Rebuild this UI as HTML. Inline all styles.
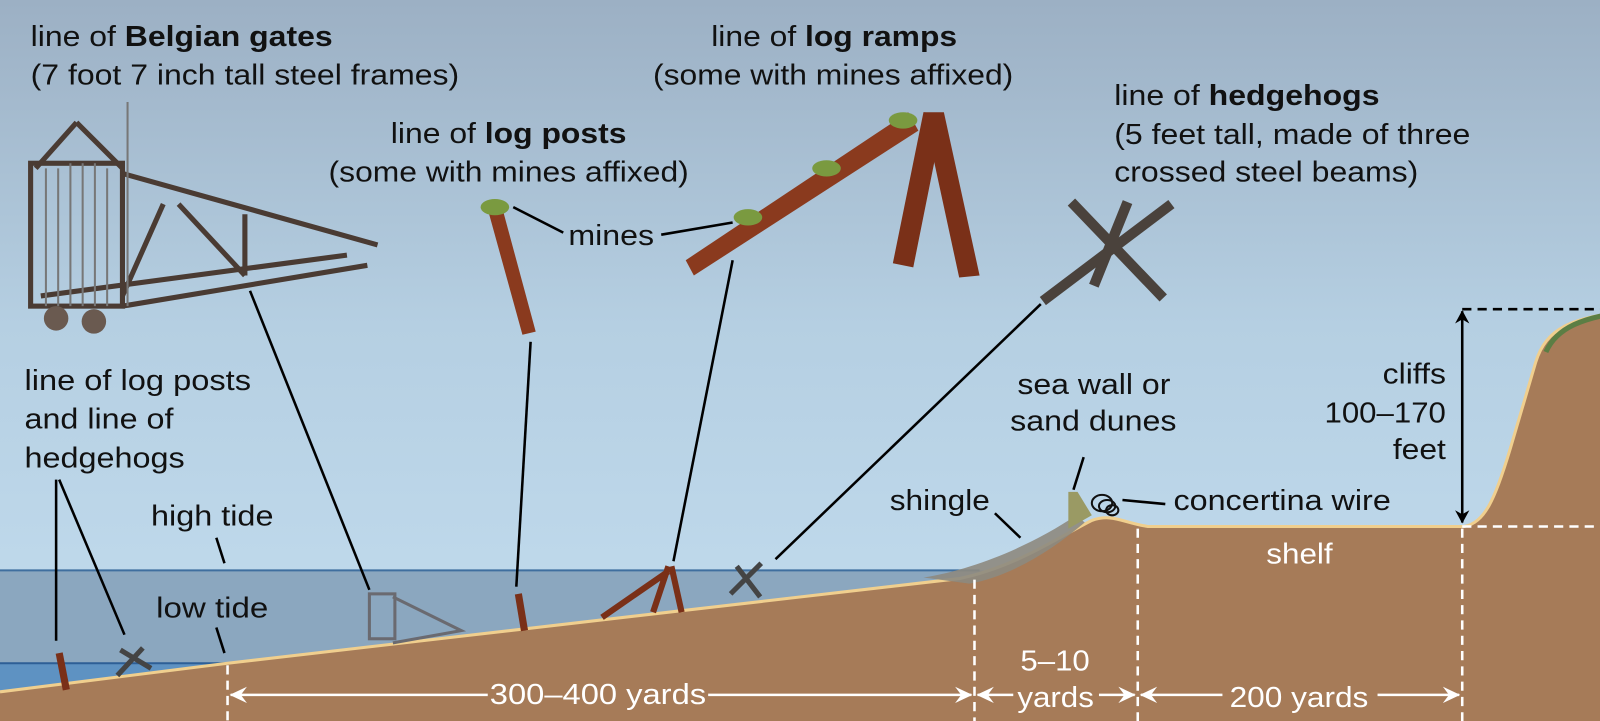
<!DOCTYPE html>
<html><head><meta charset="utf-8"><style>html,body{margin:0;padding:0;overflow:hidden}svg{display:block}</style></head>
<body>
<svg width="1600" height="721" viewBox="0 0 1600 721" xmlns="http://www.w3.org/2000/svg" font-family="Liberation Sans, sans-serif" font-size="28">
<defs>
<linearGradient id="sky" x1="0" y1="0" x2="0" y2="1"><stop offset="0" stop-color="#9cb0c4"/><stop offset="0.45" stop-color="#b5cfe2"/><stop offset="1" stop-color="#c4def0"/></linearGradient>
<marker id="ah" markerWidth="18" markerHeight="16" refX="16" refY="8" orient="auto-start-reverse" markerUnits="userSpaceOnUse"><path d="M0,0 L17,8 L0,16 L6,8 Z" fill="#fff"/></marker>
<marker id="bh" markerWidth="14" markerHeight="14" refX="12" refY="7" orient="auto-start-reverse" markerUnits="userSpaceOnUse"><path d="M0,0 L13,7 L0,14 L4,7 Z" fill="#000"/></marker>
</defs>
<rect width="1600" height="721" fill="url(#sky)"/>
<g transform="scale(1.0204)">
<!-- water -->
<rect x="0" y="559" width="980" height="162" fill="#8ba7bf"/>
<line x1="0" y1="559" x2="960" y2="559" stroke="#3f6f9f" stroke-width="2"/>
<rect x="0" y="650" width="240" height="70" fill="#5e92c2"/>
<line x1="0" y1="650" x2="225" y2="650" stroke="#2d5f96" stroke-width="2"/>
<!-- ground -->
<path d="M0,678 L223,650 L940,567 C995,556 1040,525 1070,510 C1090,503 1100,512 1125,516 L1435,516 C1455,512 1465,490 1480,440 L1505,355 C1515,322 1540,310 1600,305 L1600,721 L0,721 Z" fill="#a67b58"/>
<path d="M0,678 L223,650 L940,567 C995,556 1040,525 1070,510 C1090,503 1100,512 1125,516 L1435,516 C1455,512 1465,490 1480,440 L1505,355 C1515,322 1540,310 1600,305" fill="none" stroke="#f0cf8e" stroke-width="3"/>
<path d="M1515,345 C1525,322 1550,310 1600,305" fill="none" stroke="#5b7e44" stroke-width="5"/>
<!-- shingle -->
<path d="M905,566 C955,558 1010,535 1055,505 L1063,512 C1030,540 990,565 950,572 Z" fill="#8d8a80" opacity="0.9"/>
<!-- sea wall -->
<path d="M1047,482 L1056,482 L1070,505 L1047,518 Z" fill="#9a9a64"/>
<!-- concertina -->
<g fill="none" stroke="#111" stroke-width="2"><ellipse cx="1080" cy="493" rx="10" ry="8"/><ellipse cx="1085" cy="496" rx="8" ry="6"/><ellipse cx="1090" cy="500" rx="6" ry="5"/></g>
<!-- dashed lines -->
<g stroke="#fff" stroke-width="2.5" stroke-dasharray="9,6"><line x1="223" y1="652" x2="223" y2="721"/><line x1="955" y1="568" x2="955" y2="721"/><line x1="1115" y1="518" x2="1115" y2="721"/><line x1="1433" y1="518" x2="1433" y2="721"/><line x1="1433" y1="516" x2="1600" y2="516"/></g>
<line x1="1433" y1="303" x2="1600" y2="303" stroke="#000" stroke-width="2.5" stroke-dasharray="9,6"/>
<line x1="1433" y1="305" x2="1433" y2="512" stroke="#000" stroke-width="2.5" marker-start="url(#bh)" marker-end="url(#bh)"/>
<!-- bottom arrows -->
<g stroke="#fff" stroke-width="2.5" fill="none"><line x1="226" y1="681" x2="478" y2="681" marker-start="url(#ah)"/><line x1="694" y1="681" x2="952" y2="681" marker-end="url(#ah)"/><line x1="958" y1="681" x2="993" y2="681" marker-start="url(#ah)"/><line x1="1077" y1="681" x2="1112" y2="681" marker-end="url(#ah)"/><line x1="1118" y1="681" x2="1198" y2="681" marker-start="url(#ah)"/><line x1="1350" y1="681" x2="1430" y2="681" marker-end="url(#ah)"/></g>
<!-- leader lines -->
<g stroke="#000" stroke-width="2.5"><line x1="245" y1="285" x2="362" y2="578"/><line x1="520" y1="335" x2="506" y2="575"/><line x1="718" y1="255" x2="660" y2="550"/><line x1="1020" y1="298" x2="760" y2="548"/><line x1="55" y1="470" x2="55" y2="628"/><line x1="58" y1="470" x2="122" y2="622"/><line x1="212" y1="527" x2="220" y2="552"/><line x1="212" y1="615" x2="220" y2="640"/><line x1="503" y1="203" x2="552" y2="228"/><line x1="648" y1="230" x2="718" y2="218"/><line x1="975" y1="503" x2="1000" y2="527"/><line x1="1062" y1="448" x2="1052" y2="480"/><line x1="1100" y1="490" x2="1142" y2="494"/></g>
<!-- Belgian gate big -->
<g stroke="#4a3b33" stroke-width="5" fill="none">
<rect x="30" y="160" width="90" height="140"/>
<line x1="120" y1="170" x2="370" y2="240"/><line x1="120" y1="300" x2="360" y2="260"/><line x1="40" y1="290" x2="340" y2="250"/>
<line x1="160" y1="200" x2="120" y2="290"/><line x1="240" y1="210" x2="240" y2="270"/><line x1="175" y1="200" x2="240" y2="270"/><line x1="75" y1="120" x2="35" y2="165"/><line x1="75" y1="120" x2="120" y2="165"/>
</g>
<g stroke="#777" stroke-width="2"><line x1="45" y1="165" x2="45" y2="300"/><line x1="57" y1="165" x2="57" y2="300"/><line x1="69" y1="160" x2="69" y2="300"/><line x1="81" y1="160" x2="81" y2="300"/><line x1="93" y1="160" x2="93" y2="300"/><line x1="105" y1="165" x2="105" y2="300"/><line x1="125" y1="100" x2="125" y2="300"/></g>
<circle cx="55" cy="312" r="12" fill="#6a5a50"/><circle cx="92" cy="315" r="12" fill="#6a5a50"/>
<!-- log post -->
<path d="M478,205 L492,203 L525,325 L512,328 Z" fill="#8a3a1e"/>
<ellipse cx="485" cy="203" rx="14" ry="8" fill="#7a9a40"/>
<!-- log ramp -->
<path d="M672,255 L890,110 L900,128 L680,270 Z" fill="#8a3a1e"/>
<path d="M905,110 L925,110 L960,270 L940,272 Z" fill="#7a3018"/>
<path d="M905,110 L925,112 L895,262 L875,258 Z" fill="#7a3018"/>
<ellipse cx="733" cy="213" rx="14" ry="8" fill="#7a9a40"/><ellipse cx="810" cy="165" rx="14" ry="8" fill="#7a9a40"/><ellipse cx="885" cy="118" rx="14" ry="8" fill="#7a9a40"/>
<!-- hedgehog -->
<g stroke="#4a423c" stroke-width="10"><line x1="1050" y1="198" x2="1140" y2="292"/><line x1="1148" y1="200" x2="1022" y2="295"/><line x1="1105" y1="198" x2="1072" y2="280"/></g>
<!-- small objects -->
<g stroke="#6a6a70" stroke-width="3" fill="none"><rect x="362" y="582" width="25" height="44"/><path d="M385,585 L452,618 L385,630"/></g>
<line x1="508" y1="582" x2="514" y2="618" stroke="#7a3018" stroke-width="7"/>
<path d="M590,605 L655,560 M655,555 L640,600 M658,555 L668,600" stroke="#7a3018" stroke-width="6" fill="none"/>
<g stroke="#444" stroke-width="5"><line x1="722" y1="555" x2="745" y2="585"/><line x1="746" y1="552" x2="716" y2="582"/></g>
<line x1="58" y1="640" x2="65" y2="676" stroke="#7a3018" stroke-width="7"/>
<g stroke="#444" stroke-width="5"><line x1="118" y1="637" x2="148" y2="655"/><line x1="140" y1="635" x2="115" y2="662"/></g>
<!-- texts -->
<g fill="#111">
<text x="30" y="45" textLength="296" lengthAdjust="spacingAndGlyphs">line of <tspan font-weight="bold">Belgian gates</tspan></text>
<text x="30" y="83" textLength="420" lengthAdjust="spacingAndGlyphs">(7 foot 7 inch tall steel frames)</text>
<text x="697" y="45" textLength="241" lengthAdjust="spacingAndGlyphs">line of <tspan font-weight="bold">log ramps</tspan></text>
<text x="640" y="83" textLength="353" lengthAdjust="spacingAndGlyphs">(some with mines affixed)</text>
<text x="383" y="140" textLength="231" lengthAdjust="spacingAndGlyphs">line of <tspan font-weight="bold">log posts</tspan></text>
<text x="322" y="178" textLength="353" lengthAdjust="spacingAndGlyphs">(some with mines affixed)</text>
<text x="1092" y="103" textLength="260" lengthAdjust="spacingAndGlyphs">line of <tspan font-weight="bold">hedgehogs</tspan></text>
<text x="1092" y="141" textLength="349" lengthAdjust="spacingAndGlyphs">(5 feet tall, made of three</text>
<text x="1092" y="178" textLength="298" lengthAdjust="spacingAndGlyphs">crossed steel beams)</text>
<text x="557" y="240" textLength="84" lengthAdjust="spacingAndGlyphs">mines</text>
<text x="24" y="382" textLength="222" lengthAdjust="spacingAndGlyphs">line of log posts</text>
<text x="24" y="420" textLength="146" lengthAdjust="spacingAndGlyphs">and line of</text>
<text x="24" y="458" textLength="157" lengthAdjust="spacingAndGlyphs">hedgehogs</text>
<text x="148" y="515" textLength="120" lengthAdjust="spacingAndGlyphs">high tide</text>
<text x="153" y="605" textLength="110" lengthAdjust="spacingAndGlyphs">low tide</text>
<text x="997" y="386" textLength="150" lengthAdjust="spacingAndGlyphs">sea wall or</text>
<text x="990" y="422" textLength="163" lengthAdjust="spacingAndGlyphs">sand dunes</text>
<text x="1355" y="376" textLength="62" lengthAdjust="spacingAndGlyphs">cliffs</text>
<text x="1298" y="414" textLength="119" lengthAdjust="spacingAndGlyphs">100–170</text>
<text x="1365" y="450" textLength="52" lengthAdjust="spacingAndGlyphs">feet</text>
<text x="872" y="500" textLength="98" lengthAdjust="spacingAndGlyphs">shingle</text>
<text x="1150" y="500" textLength="213" lengthAdjust="spacingAndGlyphs">concertina wire</text>
</g>
<g fill="#fff">
<text x="1241" y="552" textLength="65" lengthAdjust="spacingAndGlyphs">shelf</text>
<text x="480" y="690" textLength="212" lengthAdjust="spacingAndGlyphs">300–400 yards</text>
<text x="1000" y="657" textLength="68" lengthAdjust="spacingAndGlyphs">5–10</text>
<text x="997" y="693" textLength="75" lengthAdjust="spacingAndGlyphs">yards</text>
<text x="1205" y="693" textLength="136" lengthAdjust="spacingAndGlyphs">200 yards</text>
</g>
</g>
</svg>
</body></html>
